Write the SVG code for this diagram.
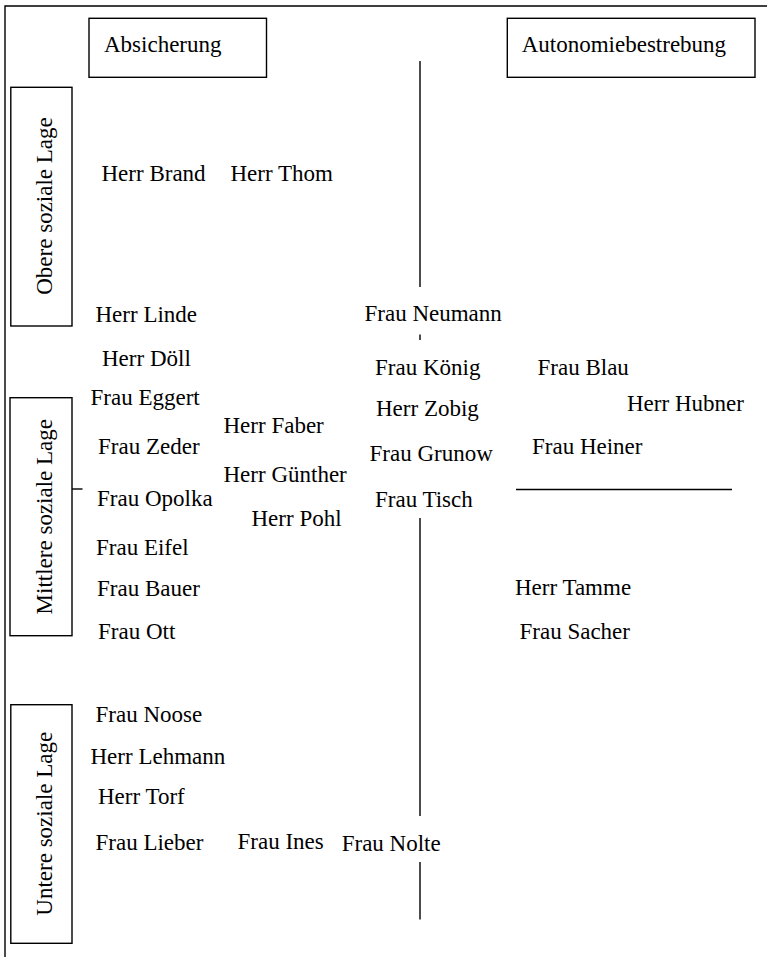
<svg xmlns="http://www.w3.org/2000/svg" width="767" height="957" viewBox="0 0 767 957">
<style>
text { font-family: "Liberation Serif", "Times New Roman", serif; font-size: 23px; fill: #000; }
.box { fill: #fff; stroke: #000; stroke-width: 1.4; }
.ln { fill: none; stroke: #000; stroke-width: 1.4; }
.rot { text-anchor: middle; }
</style>
<rect width="767" height="957" fill="#fff"/>
<g id="frame">
<path class="ln" d="M767,6 H5 V957"/>
</g>
<g id="connectors">
<line class="ln" x1="420" y1="61" x2="420" y2="287"/>
<line class="ln" x1="420" y1="334.5" x2="420" y2="340"/>
<line class="ln" x1="420" y1="518" x2="420" y2="816"/>
<line class="ln" x1="420" y1="862" x2="420" y2="919.5"/>
<line class="ln" x1="516" y1="489.5" x2="732" y2="489.5"/>
<line class="ln" x1="72" y1="489" x2="82.5" y2="489"/>
</g>
<g id="absicherung">
<rect class="box" x="89" y="18.3" width="177.5" height="59"/>
<text x="104" y="52.3">Absicherung</text>
</g>
<g id="autonomiebestrebung">
<rect class="box" x="507.3" y="18.3" width="247.7" height="59"/>
<text x="521.7" y="52">Autonomiebestrebung</text>
</g>
<g id="obere">
<rect class="box" x="10.8" y="87.3" width="61.2" height="238.7"/>
<text class="rot" transform="translate(52,206) rotate(-90)">Obere soziale Lage</text>
</g>
<g id="mittlere">
<rect class="box" x="10" y="397.7" width="62" height="238"/>
<text class="rot" transform="translate(52,516.7) rotate(-90)">Mittlere soziale Lage</text>
</g>
<g id="untere">
<rect class="box" x="10.8" y="704.7" width="61.2" height="238.6"/>
<text class="rot" transform="translate(52,823.7) rotate(-90)">Untere soziale Lage</text>
</g>
<g id="names">
<g id="herr-brand"><text x="101.5" y="181">Herr Brand</text></g>
<g id="herr-thom"><text x="230.5" y="180.5">Herr Thom</text></g>
<g id="herr-linde"><text x="95.5" y="321.5">Herr Linde</text></g>
<g id="frau-neumann"><text x="364.5" y="321">Frau Neumann</text></g>
<g id="herr-doell"><text x="102" y="365.5">Herr Döll</text></g>
<g id="frau-koenig"><text x="375" y="374.5">Frau König</text></g>
<g id="frau-blau"><text x="537.5" y="375">Frau Blau</text></g>
<g id="frau-eggert"><text x="90.5" y="405">Frau Eggert</text></g>
<g id="herr-hubner"><text x="627" y="411">Herr Hubner</text></g>
<g id="herr-zobig"><text x="376" y="416">Herr Zobig</text></g>
<g id="herr-faber"><text x="223.5" y="433">Herr Faber</text></g>
<g id="frau-zeder"><text x="98" y="454">Frau Zeder</text></g>
<g id="frau-heiner"><text x="532" y="453.5">Frau Heiner</text></g>
<g id="frau-grunow"><text x="369.5" y="461">Frau Grunow</text></g>
<g id="herr-guenther"><text x="223.5" y="482">Herr Günther</text></g>
<g id="frau-opolka"><text x="97" y="506">Frau Opolka</text></g>
<g id="frau-tisch"><text x="375" y="506.5">Frau Tisch</text></g>
<g id="herr-pohl"><text x="251.5" y="526">Herr Pohl</text></g>
<g id="frau-eifel"><text x="96" y="554.5">Frau Eifel</text></g>
<g id="frau-bauer"><text x="97" y="596">Frau Bauer</text></g>
<g id="herr-tamme"><text x="515" y="595">Herr Tamme</text></g>
<g id="frau-ott"><text x="98" y="638.5">Frau Ott</text></g>
<g id="frau-sacher"><text x="519.5" y="638.5">Frau Sacher</text></g>
<g id="frau-noose"><text x="95.5" y="722">Frau Noose</text></g>
<g id="herr-lehmann"><text x="90.5" y="764">Herr Lehmann</text></g>
<g id="herr-torf"><text x="98" y="804">Herr Torf</text></g>
<g id="frau-lieber"><text x="95.5" y="849.5">Frau Lieber</text></g>
<g id="frau-ines"><text x="237.5" y="849.3">Frau Ines</text></g>
<g id="frau-nolte"><text x="341.7" y="851">Frau Nolte</text></g>
</g>
</svg>
